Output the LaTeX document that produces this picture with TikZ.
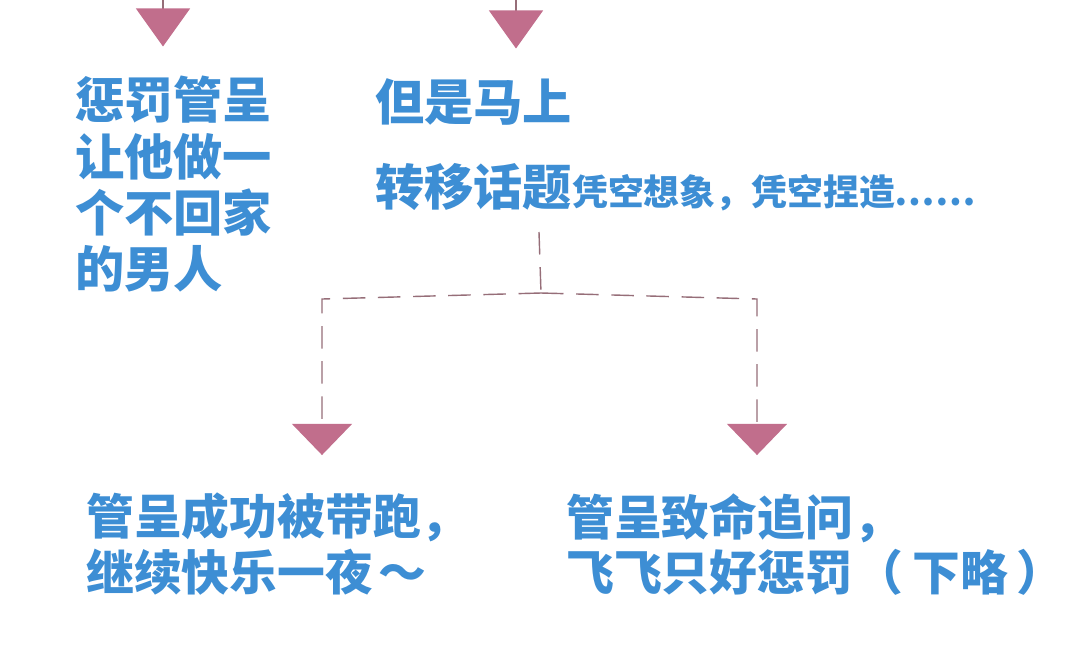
\documentclass[tikz,border=0pt]{standalone}
\usepackage{fontspec}
\newfontfamily\cjk{Noto Sans CJK SC}
\usetikzlibrary{arrows.meta,positioning}
\definecolor{textblue}{RGB}{61,142,212}
\definecolor{tippink}{RGB}{193,110,140}
\definecolor{dashpink}{RGB}{150,110,120}
\tikzset{
  big/.style={font=\cjk\bfseries\fontsize{35}{40}\selectfont, text=textblue,
              inner sep=0pt, anchor=north west, align=left},
  low/.style={big, font=\cjk\bfseries\fontsize{34}{39.5}\selectfont},
  toptip/.style={draw=dashpink, line width=0.8pt,
                 -{Triangle[width=1.35cm,length=0.95cm,color=tippink]}},
  dashline/.style={draw=dashpink, line width=1pt, dash pattern=on 16pt off 9pt,
                 -{Triangle[width=1.5cm,length=0.78cm,color=tippink]}},
}
\begin{document}
\begin{tikzpicture}[x=0.025cm,y=-0.025cm]
      \useasboundingbox[fill=white] (0,0) rectangle (1080,660);

      % TEXTS
      \node[big] (t1) at (75,76) {惩罚管呈\\让他做一\\个不回家\\的男人};
      \node[big] (t2) at (375,78) {但是马上};
      \node[big] (t3) at (375,163) {转移话题{\fontsize{25.5}{28}\selectfont 凭空想象，凭空捏造……}};

      \node[low] (b1) at (86,493) {管呈成功被带跑，\\继续快乐一夜\kern4pt～};
      \node[low] (b2) at (566,493) {管呈致命追问，\\飞飞只好惩罚\kern2pt（\kern6pt 下略\kern6pt）};

      % ARROWS
      \coordinate (in1) at (163,0);
      \coordinate (in2) at (516,0);
      \draw[toptip] (in1) -- (in1 |- t1.north) [shorten >=21pt];
      \draw[toptip] (in2) -- (in2 |- t2.north) [shorten >=21pt];

      \coordinate (stem) at (539,232);
      \coordinate (fork) at (541,293);
      \coordinate (cl) at (322,299);
      \coordinate (cr) at (757,299);
      \draw[dashline, -] (stem) -- (fork);
      \draw[dashline, shorten >=27pt] (fork) -- (cl) -- (cl |- b1.north);
      \draw[dashline, shorten >=27pt] (fork) -- (cr) -- (cr |- b2.north);

\end{tikzpicture}
\end{document}
